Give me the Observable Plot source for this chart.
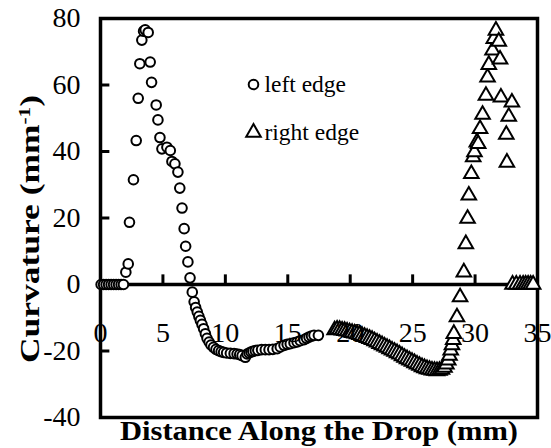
<!DOCTYPE html>
<html><head><meta charset="utf-8">
<script src="https://cdn.jsdelivr.net/npm/d3@7"></script>
<script src="https://cdn.jsdelivr.net/npm/@observablehq/plot@0.6"></script>
<style>body{margin:0;background:#fff} svg{display:block}</style>
</head><body><div id="chart"></div>
<script>
// left edge (circles)
const leftX = [0.05,0.25,0.45,0.65,0.85,1.05,1.25,1.45,1.65,1.84,
  2.03,2.22,2.32,2.64,2.86,3.02,3.15,3.31,3.45,3.58,3.82,3.98,4.09,4.46,4.6,4.76,4.92,5.32,5.59,5.72,5.96,
  6.2,6.35,6.53,6.7,6.82,7.0,7.17,7.35,7.5,7.62,7.75,7.88,8.0,8.13,8.26,8.4,8.53,8.7,8.85,9.05,9.25,9.46,9.66,9.86,
  10.1,10.4,10.7,10.94,11.15,11.34,11.6,11.74,11.9,12.05,12.2,12.4,12.6,12.9,13.2,13.5,13.8,14.15,14.4,14.7,14.95,
  15.2,15.5,15.75,16.0,16.3,16.5,16.7,16.9,17.1,17.45];
const leftY = [0,0,0,0,0,0,0,0,0,0,
  3.7,6.2,18.7,31.5,43.3,56.0,66.4,73.5,76.2,76.6,75.8,66.9,60.8,54.0,49.5,44.2,40.8,41.3,40.3,37.0,36.3,
  33.8,29.0,23.0,16.8,11.5,6.8,2.0,-2.3,-5.2,-6.9,-8.3,-9.6,-10.8,-12.0,-13.3,-14.8,-16.2,-17.3,-18.2,-18.9,-19.5,-19.9,-20.2,-20.4,
  -20.6,-20.7,-20.8,-20.9,-21.1,-21.4,-21.9,-20.9,-20.6,-20.3,-20.1,-19.9,-19.8,-19.6,-19.6,-19.6,-19.5,-19.3,-18.8,-18.3,-18.0,
  -17.8,-17.5,-17.3,-16.9,-16.6,-16.2,-15.8,-15.5,-15.3,-15.3];
// right edge (triangles)
const rightX = [18.75,18.95,19.15,19.35,19.55,19.75,19.95,20.15,20.35,20.55,20.75,20.95,21.15,21.35,21.55,21.75,21.95,
  22.15,22.35,22.55,22.75,22.95,23.15,23.35,23.55,23.75,23.95,24.15,24.35,24.55,24.75,24.95,25.15,25.35,25.55,25.75,25.95,
  26.15,26.35,26.55,26.75,26.95,27.15,27.35,27.55,27.7,27.85,27.95,28.05,28.15,28.25,28.3,28.55,28.8,29.1,29.26,29.4,29.5,
  29.7,29.85,29.95,30.14,30.25,30.4,30.6,30.87,31.0,31.1,31.4,31.5,31.67,31.9,32.0,32.07,32.95,32.7,32.5,32.55,
  33.0,33.3,33.6,33.85,34.05,34.25,34.45,34.65];
const rightY = [-13.7,-13.5,-13.6,-13.8,-13.9,-14.1,-14.3,-14.5,-14.7,-14.9,-15.1,-15.4,-15.7,-16.0,-16.3,-16.6,-17.0,
  -17.4,-17.8,-18.2,-18.6,-19.0,-19.4,-19.8,-20.2,-20.6,-21.0,-21.5,-22.0,-22.4,-22.8,-23.2,-23.6,-24.0,-24.4,-24.8,-25.1,
  -25.4,-25.6,-25.8,-25.9,-26.0,-25.9,-25.6,-25.0,-24.0,-22.8,-21.4,-19.8,-18.2,-16.6,-14.8,-9.8,-3.8,3.7,12.2,19.8,26.8,
  33.3,38.3,39.8,42.8,42.3,46.8,51.1,56.8,62.3,66.1,70.4,73.9,76.4,73.1,67.7,56.3,54.8,50.5,45.1,36.7,
  0,0,0,0,0,0,0,0];
const xTicks = [0,5,10,15,20,25,30,35];
const yTicks = [-40,-20,0,20,40,60,80];
const seriesNames = ["left edge","right edge"];
const xTitle = "Distance Along the Drop (mm)";
const yTitleMain = "Curvature (mm";
const yTitleSup = "-1";
const yTitleEnd = ")";

const left = leftX.map((x,i)=>({x, y:leftY[i]}));
const right = rightX.map((x,i)=>({x, y:rightY[i]}));
const serif = "'Liberation Serif','Times New Roman',Times,serif";

const chart = Plot.plot({
  width:551, height:448,
  marginLeft:100, marginRight:14, marginTop:18, marginBottom:31,
  x:{domain:[0,35], axis:null},
  y:{domain:[-40,80], axis:null},
  style:{fontFamily:serif, background:"white", color:"black", overflow:"visible"},
  marks:[
    // inward y ticks
    Plot.ruleY(yTicks.filter(d=>d>-40 && d<80), {y:d=>d, x1:()=>0, x2:()=>0.75, stroke:"black", strokeWidth:3}),
    // x axis line at zero with upward ticks
    Plot.ruleY([0], {stroke:"black", strokeWidth:3.5}),
    Plot.ruleX(xTicks.filter(d=>d>0 && d<35), {x:d=>d, y1:()=>0, y2:()=>2.9, stroke:"black", strokeWidth:3}),
    Plot.frame({stroke:"black", strokeWidth:3.5}),
    // data
    Plot.dot(left, {x:"x", y:"y", r:4.8, symbol:"circle", stroke:"black", strokeWidth:2, fill:"white"}),
    Plot.dot(right, {x:"x", y:"y", r:5.4, symbol:"triangle", stroke:"black", strokeWidth:2, fill:"white"}),
    // tick labels
    Plot.text(yTicks, {y:d=>d, text:d=>String(d), frameAnchor:"left", textAnchor:"end", dx:-20, fontSize:28, fill:"black"}),
    Plot.text(xTicks, {x:d=>d, y:()=>0, text:d=>String(d), dy:49, fontSize:28, fill:"black"}),
    // legend
    Plot.dot([seriesNames[0]], {frameAnchor:"top-left", dx:153, dy:66, r:4.8, symbol:"circle", stroke:"black", strokeWidth:2, fill:"white"}),
    Plot.dot([seriesNames[1]], {frameAnchor:"top-left", dx:153, dy:114, r:5.4, symbol:"triangle", stroke:"black", strokeWidth:2, fill:"white"}),
    Plot.text([seriesNames[0]], {text:d=>d, frameAnchor:"top-left", lineAnchor:"middle", dx:164, dy:66, textAnchor:"start", fontSize:23.5, fill:"black"}),
    Plot.text([seriesNames[1]], {text:d=>d, frameAnchor:"top-left", lineAnchor:"middle", dx:164, dy:114, textAnchor:"start", fontSize:23.5, fill:"black"}),
    // titles
    Plot.text([xTitle], {text:d=>d, frameAnchor:"bottom", lineAnchor:"top", dy:3, fontSize:28, fontWeight:"bold", fill:"black"}),
    Plot.text([yTitleMain+yTitleSup+yTitleEnd], {text:d=>d, frameAnchor:"left", textAnchor:"middle", lineAnchor:"middle", rotate:-90, dx:-70, dy:11, fontSize:28, fontWeight:"bold", fill:"black"})
  ]
});
document.getElementById("chart").appendChild(chart);
// superscript and horizontal stretch of titles to match reference
d3.select(chart).selectAll("text").each(function(){
  const t = d3.select(this);
  const s = t.text();
  if (s === yTitleMain+yTitleSup+yTitleEnd) {
    t.text(null);
    t.append("tspan").text(yTitleMain);
    t.append("tspan").attr("baseline-shift","super").attr("font-size","0.6em").text(yTitleSup);
    t.append("tspan").text(yTitleEnd);
    t.attr("textLength", 268).attr("lengthAdjust","spacingAndGlyphs");
  } else if (s === xTitle) {
    t.attr("textLength", 398).attr("lengthAdjust","spacingAndGlyphs");
  }
});
</script></body></html>
